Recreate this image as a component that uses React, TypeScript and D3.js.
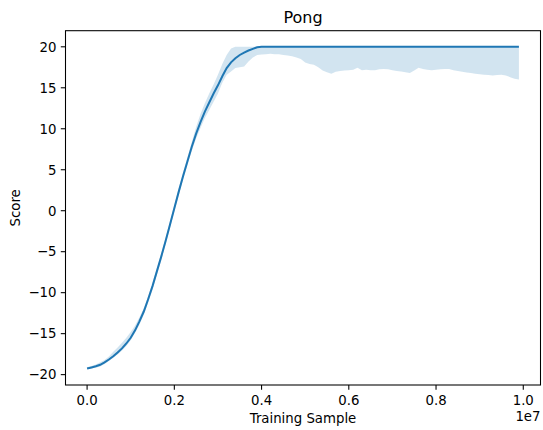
import React from "react";
import * as d3 from "d3";

const title = "Pong";
const xLabel = "Training Sample";
const yLabel = "Score";
const xStep = 0.1e6;
const xTicks = [0, 0.2e7, 0.4e7, 0.6e7, 0.8e7, 1.0e7];
const yTicks = [-20, -15, -10, -5, 0, 5, 10, 15, 20];

const meanScore = [
  -19.25, -19.12, -18.98, -18.8, -18.5, -18.15, -17.75, -17.3, -16.8, -16.2,
  -15.5, -14.6, -13.5, -12.3, -10.8, -9.2, -7.4, -5.6, -3.7, -1.7,
  0.3, 2.3, 4.2, 6.0, 7.8, 9.4, 10.8, 12.1, 13.2, 14.3,
  15.3, 16.4, 17.4, 18.1, 18.6, 19.0, 19.3, 19.55, 19.75, 19.95,
  20, 20, 20, 20, 20, 20, 20, 20, 20, 20,
  20, 20, 20, 20, 20, 20, 20, 20, 20, 20,
  20, 20, 20, 20, 20, 20, 20, 20, 20, 20,
  20, 20, 20, 20, 20, 20, 20, 20, 20, 20,
  20, 20, 20, 20, 20, 20, 20, 20, 20, 20,
  20, 20, 20, 20, 20, 20, 20, 20, 20, 20,
];

const upperScore = [
  -19.1, -18.95, -18.75, -18.5, -18.2, -17.8, -17.2, -16.7, -16.1, -15.5,
  -14.8, -14.0, -13.0, -11.9, -10.4, -8.8, -7.0, -5.2, -3.3, -1.3,
  0.7, 2.7, 4.7, 6.5, 8.4, 10.2, 11.8, 13.1, 14.3, 15.4,
  16.6, 17.9, 19.0, 19.8, 20, 20, 20, 20, 20, 20,
  20, 20, 20, 20, 20, 20, 20, 20, 20, 20,
  20, 20, 20, 20, 20, 20, 20, 20, 20, 20,
  20, 20, 20, 20, 20, 20, 20, 20, 20, 20,
  20, 20, 20, 20, 20, 20, 20, 20, 20, 20,
  20, 20, 20, 20, 20, 20, 20, 20, 20, 20,
  20, 20, 20, 20, 20, 20, 20, 20, 20, 20,
];

const lowerScore = [
  -19.3, -19.25, -19.15, -19.0, -18.7, -18.35, -17.95, -17.55, -17.05, -16.5,
  -15.8, -14.9, -13.9, -12.7, -11.2, -9.6, -7.8, -6.0, -4.1, -2.1,
  -0.1, 1.9, 3.8, 5.6, 7.3, 8.8, 10.1, 11.3, 12.3, 13.3,
  14.3, 15.6, 16.6, 17.0, 17.4, 17.5, 17.6, 18.2, 18.7, 19.0,
  19.05, 19.1, 19.15, 19.1, 19.1, 19.0, 18.95, 18.85, 18.7, 18.5,
  18.1, 17.9, 17.8, 17.5, 17.1, 16.9, 16.7, 16.95, 17.05, 17.1,
  17.15, 17.2, 17.45, 17.15, 17.2, 17.15, 17.15, 17.25, 17.3, 17.25,
  17.15, 17.05, 17.0, 16.9, 16.8, 17.1, 17.45, 17.3, 17.2, 17.15,
  17.2, 17.25, 17.3, 17.3, 17.15, 17.05, 16.95, 16.85, 16.8, 16.7,
  16.65, 16.6, 16.55, 16.5, 16.55, 16.6, 16.5, 16.3, 16.1, 16.0,
];

const W = 543;
const H = 430;
const L = 65.5, R = 540.5, T = 30.7, B = 385;
const BLUE = "#1f77b4";
const FONT = "DejaVu Sans, sans-serif";

export default function App() {
  const data = meanScore.map((m, i) => ({
    x: i * xStep,
    mean: m,
    lo: lowerScore[i],
    hi: upperScore[i],
  }));
  const xExt = d3.extent(data, (d) => d.x) as [number, number];
  const xPad = (xExt[1] - xExt[0]) * 0.05;
  const yMin = d3.min(data, (d) => Math.min(d.lo, d.mean)) as number;
  const yMax = d3.max(data, (d) => Math.max(d.hi, d.mean)) as number;
  const yPad = (yMax - yMin) * 0.05;
  const x = d3.scaleLinear().domain([xExt[0] - xPad, xExt[1] + xPad]).range([L, R]);
  const y = d3.scaleLinear().domain([yMin - yPad, yMax + yPad]).range([B, T]);

  const area = d3
    .area<any>()
    .x((d) => x(d.x))
    .y0((d) => y(d.lo))
    .y1((d) => y(d.hi));
  const line = d3
    .line<any>()
    .x((d) => x(d.x))
    .y((d) => y(d.mean));

  const fmtY = (v: number) => (v < 0 ? "\u2212" + Math.abs(v) : String(v));
  const fmtX = (v: number) => (v / 1e7).toFixed(1);

  return (
    <svg
      width={W}
      height={H}
      style={{ position: "absolute", left: 0, top: 0, background: "#fff" }}
      fontFamily={FONT}
    >
      <rect x={0} y={0} width={W} height={H} fill="#fff" />
      <path d={area(data) || ""} fill={BLUE} fillOpacity={0.2} stroke="none" />
      <path d={line(data) || ""} fill="none" stroke={BLUE} strokeWidth={2} />
      <rect x={L} y={T} width={R - L} height={B - T} fill="none" stroke="#000" strokeWidth={1.07} />
      {yTicks.map((t) => (
        <g key={"y" + t}>
          <line x1={L} x2={L - 4.7} y1={y(t)} y2={y(t)} stroke="#000" strokeWidth={1.07} />
          <text x={L - 9} y={y(t)} dy="0.36em" textAnchor="end" fontSize={13.3} fill="#000">
            {fmtY(t)}
          </text>
        </g>
      ))}
      {xTicks.map((t) => (
        <g key={"x" + t}>
          <line x1={x(t)} x2={x(t)} y1={B} y2={B + 4.7} stroke="#000" strokeWidth={1.07} />
          <text x={x(t)} y={B + 20} textAnchor="middle" fontSize={13.3} fill="#000">
            {fmtX(t)}
          </text>
        </g>
      ))}
      <text x={R} y={421} textAnchor="end" fontSize={13.3} fill="#000">
        1e7
      </text>
      <text x={(L + R) / 2} y={423} textAnchor="middle" fontSize={13.3} fill="#000">
        {xLabel}
      </text>
      <text
        transform={`translate(${20},${(T + B) / 2}) rotate(-90)`}
        textAnchor="middle"
        fontSize={13.3}
        fill="#000"
      >
        {yLabel}
      </text>
      <text x={(L + R) / 2} y={T - 8} textAnchor="middle" fontSize={16} fill="#000">
        {title}
      </text>
    </svg>
  );
}
